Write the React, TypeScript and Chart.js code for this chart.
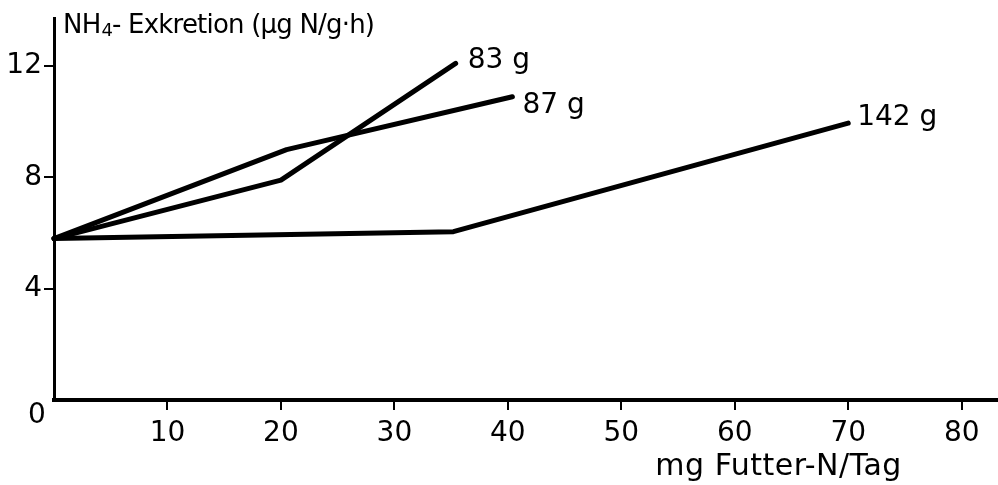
import React, { useEffect, useRef } from 'react';
import { Chart, registerables } from 'chart.js';

Chart.register(...registerables);

// ---- data ----
const FEED_83 = [0, 20, 35.4];
const EXCR_83 = [5.8, 7.9, 12.1];
const FEED_87 = [0, 20.5, 40.4];
const EXCR_87 = [5.8, 9.0, 10.9];
const FEED_142 = [0, 35.2, 70];
const EXCR_142 = [5.8, 6.05, 9.95];
const SERIES_LABELS = ['83 g', '87 g', '142 g'];
const X_TICKS = [10, 20, 30, 40, 50, 60, 70, 80];
const Y_TICKS = [4, 8, 12];
const ORIGIN_LABEL = '0';
const X_TITLE = 'mg Futter-N/Tag';
const Y_TITLE_MAIN = 'NH';
const Y_TITLE_SUB = '4';
const Y_TITLE_REST = '- Exkretion (µg N/g·h)';

const FONT = '"DejaVu Sans", sans-serif';
const LABEL_OFFSETS = [
  { dx: 12, dy: -3 },
  { dx: 10, dy: 9 },
  { dx: 9, dy: -5 },
];

function toPoints(xs: number[], ys: number[]) {
  return xs.map((x, i) => ({ x, y: ys[i] }));
}

const textPlugin = {
  id: 'textPlugin',
  afterDraw(chart: any) {
    const ctx = chart.ctx;
    const xs = chart.scales.x;
    const ys = chart.scales.y;
    const area = chart.chartArea;
    ctx.save();
    ctx.fillStyle = '#000';
    // series end labels
    ctx.font = `28px ${FONT}`;
    ctx.textAlign = 'left';
    ctx.textBaseline = 'middle';
    chart.data.datasets.forEach((ds: any, i: number) => {
      const meta = chart.getDatasetMeta(i);
      const last = meta.data[meta.data.length - 1];
      const o = LABEL_OFFSETS[i];
      ctx.fillText(SERIES_LABELS[i], last.x + o.dx, last.y + o.dy);
    });
    // origin label
    ctx.textAlign = 'center';
    ctx.fillText(ORIGIN_LABEL, area.left - 17, ys.getPixelForValue(0) + 16);
    // x title
    ctx.textAlign = 'left';
    ctx.font = `30px ${FONT}`;
    (ctx as any).letterSpacing = '0.5px';
    ctx.fillText(X_TITLE, xs.getPixelForValue(53.0), ys.getPixelForValue(0) + 67);
    // y title with subscript
    (ctx as any).letterSpacing = '-0.8px';
    let x = area.left + 9;
    const y = area.top + 7;
    ctx.font = `26px ${FONT}`;
    ctx.fillText(Y_TITLE_MAIN, x, y);
    x += ctx.measureText(Y_TITLE_MAIN).width;
    ctx.font = `18px ${FONT}`;
    ctx.fillText(Y_TITLE_SUB, x + 1, y + 6);
    x += ctx.measureText(Y_TITLE_SUB).width + 1;
    ctx.font = `26px ${FONT}`;
    ctx.fillText(Y_TITLE_REST, x, y);
    (ctx as any).letterSpacing = '0px';
    ctx.restore();
  },
};

export default function App() {
  const ref = useRef<HTMLCanvasElement | null>(null);
  useEffect(() => {
    if (!ref.current) return;
    const lineStyle = {
      borderColor: '#000',
      borderWidth: 5,
      pointRadius: 0,
      borderCapStyle: 'round' as const,
      borderJoinStyle: 'round' as const,
      tension: 0,
      fill: false,
      clip: false as any,
    };
    const chart = new Chart(ref.current, {
      type: 'line',
      data: {
        datasets: [
          { label: SERIES_LABELS[0], data: toPoints(FEED_83, EXCR_83), ...lineStyle },
          { label: SERIES_LABELS[1], data: toPoints(FEED_87, EXCR_87), ...lineStyle },
          { label: SERIES_LABELS[2], data: toPoints(FEED_142, EXCR_142), ...lineStyle },
        ],
      },
      options: {
        animation: false,
        responsive: true,
        maintainAspectRatio: false,
        layout: { padding: { top: 14, left: 0, right: 0, bottom: 0 } },
        plugins: { legend: { display: false }, tooltip: { enabled: false } },
        scales: {
          x: {
            type: 'linear',
            min: 0,
            max: 83.2,
            afterFit(s: any) {
              s.height = 85;
            },
            border: { display: true, color: '#000', width: 4 },
            grid: {
              drawOnChartArea: false,
              drawTicks: true,
              tickLength: 10,
              lineWidth: 2,
              color: (c: any) => (c.tick && X_TICKS.includes(c.tick.value) ? '#000' : 'rgba(0,0,0,0)'),
            },
            ticks: {
              stepSize: 10,
              includeBounds: false,
              maxRotation: 0,
              autoSkip: false,
              padding: 7,
              color: '#000',
              font: { family: FONT, size: 28 },
              callback: (v: any) => (X_TICKS.includes(Number(v)) ? String(v) : ''),
            },
          },
          y: {
            type: 'linear',
            min: 0,
            max: 13.7,
            afterFit(s: any) {
              s.width = 54;
            },
            border: { display: true, color: '#000', width: 3 },
            grid: {
              drawOnChartArea: false,
              drawTicks: true,
              tickLength: 10,
              lineWidth: 2,
              color: (c: any) => (c.tick && Y_TICKS.includes(c.tick.value) ? '#000' : 'rgba(0,0,0,0)'),
            },
            ticks: {
              stepSize: 4,
              includeBounds: false,
              padding: 2,
              color: '#000',
              font: { family: FONT, size: 28 },
              callback: (v: any) => (Y_TICKS.includes(Number(v)) ? String(v) : ''),
            },
          },
        },
      },
      plugins: [textPlugin],
    });
    return () => chart.destroy();
  }, []);
  return (
    <div style={{ position: 'absolute', left: 0, top: 0, width: 998, height: 485, background: '#fff' }}>
      <canvas ref={ref} />
    </div>
  );
}
